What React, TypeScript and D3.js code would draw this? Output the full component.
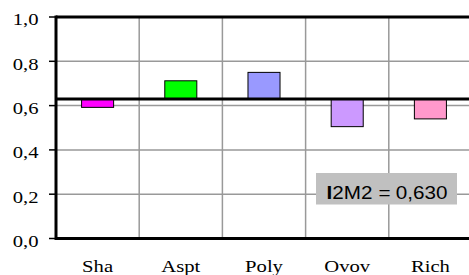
import React, { useEffect, useRef } from 'react';
import * as d3 from 'd3';

const categories = ['Sha', 'Aspt', 'Poly', 'Ovov', 'Rich'];
const values = [0.592, 0.712, 0.75, 0.505, 0.54];
const colors = ['#ff00ff', '#00ff00', '#9999ff', '#cc99ff', '#ff99cc'];
const reference = 0.63;
const yTicks = [0, 0.2, 0.4, 0.6, 0.8, 1.0];

export default function App() {
  const ref = useRef<SVGSVGElement>(null);

  useEffect(() => {
    const svg = d3.select(ref.current);
    svg.selectAll('*').remove();

    const width = 469;
    const height = 275;
    const margin = { top: 17, right: -3, bottom: 36.5, left: 56 };
    const stretch = 1.18; // the source image text is wider than tall

    const x = d3
      .scaleBand()
      .domain(categories)
      .range([margin.left, width - margin.right])
      .paddingInner(0)
      .paddingOuter(0);

    const y = d3
      .scaleLinear()
      .domain([0, 1])
      .range([height - margin.bottom, margin.top]);

    const fmt = (v: number) => d3.format('.1f')(v).replace('.', ',');

    // ------- Grid -------
    svg.append('g')
      .selectAll('line')
      .data(yTicks.filter((t) => t > 0 && t < 1))
      .enter()
      .append('line')
      .attr('x1', margin.left)
      .attr('x2', width)
      .attr('y1', (d) => y(d))
      .attr('y2', (d) => y(d))
      .attr('stroke', '#999')
      .attr('stroke-width', 1.5);

    svg.append('g')
      .selectAll('line')
      .data(categories.slice(1))
      .enter()
      .append('line')
      .attr('x1', (d) => x(d)!)
      .attr('x2', (d) => x(d)!)
      .attr('y1', y(1))
      .attr('y2', y(0))
      .attr('stroke', '#999')
      .attr('stroke-width', 1.5);

    // ------- Bars -------
    const bw = x.bandwidth() * 0.385;
    svg.append('g')
      .selectAll('rect')
      .data(categories)
      .enter()
      .append('rect')
      .attr('x', (d) => x(d)! + x.bandwidth() / 2 - bw / 2)
      .attr('y', (d, i) => y(Math.max(values[i], reference)))
      .attr('width', bw)
      .attr('height', (d, i) => Math.abs(y(values[i]) - y(reference)))
      .attr('fill', (d, i) => colors[i])
      .attr('stroke', '#000')
      .attr('stroke-width', 1);

    // ------- Reference line -------
    svg.append('line')
      .attr('x1', margin.left)
      .attr('x2', width)
      .attr('y1', y(reference))
      .attr('y2', y(reference))
      .attr('stroke', '#000')
      .attr('stroke-width', 3);

    // ------- Frame -------
    [1, 0].forEach((v) => {
      svg.append('line')
        .attr('x1', margin.left)
        .attr('x2', width)
        .attr('y1', y(v))
        .attr('y2', y(v))
        .attr('stroke', '#000')
        .attr('stroke-width', 3);
    });

    svg.append('line')
      .attr('x1', margin.left)
      .attr('x2', margin.left)
      .attr('y1', y(1) - 1.5)
      .attr('y2', y(0) + 1.5)
      .attr('stroke', '#000')
      .attr('stroke-width', 3);

    // ------- Y ticks -------
    const yAxis = svg.append('g');
    yAxis.selectAll('line')
      .data(yTicks)
      .enter()
      .append('line')
      .attr('x1', 49)
      .attr('x2', margin.left)
      .attr('y1', (d) => y(d))
      .attr('y2', (d) => y(d))
      .attr('stroke', '#000')
      .attr('stroke-width', 1.5);

    yAxis.selectAll('text')
      .data(yTicks)
      .enter()
      .append('text')
      .attr('transform', (d) => `translate(38.5,${y(d) + 8.4}) scale(${stretch},1)`)
      .attr('text-anchor', 'end')
      .attr('font-family', '"Liberation Serif", serif')
      .attr('font-size', 17.5)
      .attr('fill', '#000')
      .text((d) => fmt(d));

    // ------- X labels -------
    svg.append('g')
      .selectAll('text')
      .data(categories)
      .enter()
      .append('text')
      .attr('transform', (d) => `translate(${x(d)! + x.bandwidth() / 2},271.5) scale(${stretch},1)`)
      .attr('text-anchor', 'middle')
      .attr('font-family', '"Liberation Serif", serif')
      .attr('font-size', 17.5)
      .attr('fill', '#000')
      .text((d) => d);

    // ------- Label box -------
    const box = svg.append('g');
    box.append('rect')
      .attr('x', 316)
      .attr('y', 173)
      .attr('width', 141)
      .attr('height', 31.5)
      .attr('fill', '#c0c0c0');

    const textAttrs = (sel: any) =>
      sel
        .attr('font-family', '"Liberation Sans", Arial, sans-serif')
        .attr('font-size', 17.5)
        .attr('fill', '#000');

    const left = box.append('text')
      .attr('transform', `translate(326.5,199.3) scale(${stretch},1)`)
      .call(textAttrs);
    left.append('tspan').attr('font-weight', 'bold').text('I');
    left.append('tspan').text('2M2');

    box.append('text')
      .attr('transform', `translate(384.5,199.3) scale(${stretch},1)`)
      .attr('text-anchor', 'middle')
      .call(textAttrs)
      .text('=');

    box.append('text')
      .attr('transform', `translate(447.5,199.3) scale(${stretch},1)`)
      .attr('text-anchor', 'end')
      .call(textAttrs)
      .text(d3.format('.3f')(reference).replace('.', ','));
  }, []);

  return (
    <svg
      ref={ref}
      width={469}
      height={275}
      style={{ position: 'absolute', left: 0, top: 0, background: '#fff' }}
    />
  );
}
